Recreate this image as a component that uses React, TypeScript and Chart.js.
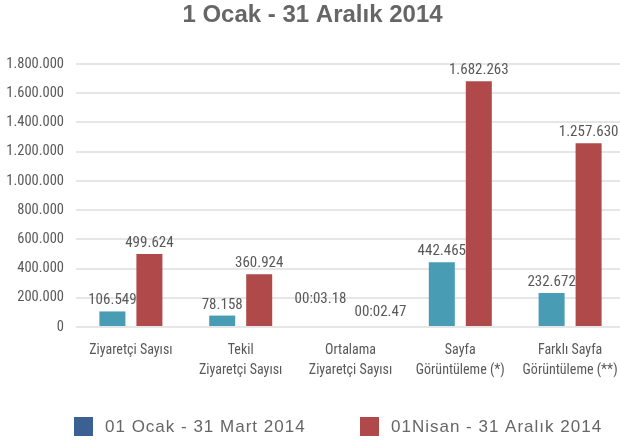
import React, { useEffect, useRef } from "react";
import { Chart, registerables } from "chart.js";

Chart.register(...registerables);

const categories: string[][] = [
  ["Ziyaretçi Sayısı"],
  ["Tekil", "Ziyaretçi Sayısı"],
  ["Ortalama", "Ziyaretçi Sayısı"],
  ["Sayfa", "Görüntüleme (*)"],
  ["Farklı Sayfa", "Görüntüleme (**)"],
];
const seriesNames = ["01 Ocak - 31 Mart 2014", "01Nisan - 31 Aralık 2014"];
const q1Values = [106549, 78158, 0, 442465, 232672];
const restValues = [499624, 360924, 0, 1682263, 1257630];
const q1Labels = ["106.549", "78.158", "00:03.18", "442.465", "232.672"];
const restLabels = ["499.624", "360.924", "00:02.47", "1.682.263", "1.257.630"];
const yTicks = [0, 200000, 400000, 600000, 800000, 1000000, 1200000, 1400000, 1600000, 1800000];

const barColors = ["#489cb4", "#b04a4a"];
const legendColors = ["#3a6191", "#b04a4a"];
const valueLabelSets = [q1Labels, restLabels];

const NARROW = "'Liberation Sans Narrow', 'Roboto Condensed', 'Liberation Sans', sans-serif";
const REGULAR = "'Liberation Sans', Arial, sans-serif";
const TEXT = "#595959";

const fmt = (v: number) => String(v).replace(/\B(?=(\d{3})+(?!\d))/g, ".");

const valueLabelPlugin = {
  id: "valueLabels",
  afterDatasetsDraw(chart: any) {
    const ctx = chart.ctx;
    ctx.save();
    ctx.font = `15px ${NARROW}`;
    ctx.fillStyle = TEXT;
    ctx.textAlign = "center";
    ctx.textBaseline = "alphabetic";
    const n = chart.data.labels.length;
    for (let i = 0; i < n; i++) {
      const items = chart.data.datasets.map((_ds: any, d: number) => {
        const el = chart.getDatasetMeta(d).data[i];
        const text = valueLabelSets[d][i];
        return { x: el.x, y: el.y - 7, text, w: ctx.measureText(text).width };
      });
      if (items.length === 2) {
        const [a, b] = items;
        const overlap = a.x + a.w / 2 + 8 - (b.x - b.w / 2);
        if (overlap > 0 && Math.abs(a.y - b.y) < 16) {
          a.x -= overlap / 2;
          b.x += overlap / 2;
          a.y -= 17;
          b.y -= 4;
        }
      }
      items.forEach((it: any) => ctx.fillText(it.text, it.x, it.y));
    }
    ctx.restore();
  },
};

const legendPlugin = {
  id: "customLegend",
  afterDraw(chart: any) {
    const ctx = chart.ctx;
    const xs = [74, 360];
    const top = chart.chartArea.bottom + 90;
    const size = 19;
    ctx.save();
    ctx.font = `17px ${REGULAR}`;
    (ctx as any).letterSpacing = "1px";
    ctx.textAlign = "left";
    ctx.textBaseline = "middle";
    chart.data.datasets.forEach((ds: any, d: number) => {
      ctx.fillStyle = legendColors[d];
      ctx.fillRect(xs[d], top, size, size);
      ctx.fillStyle = "#666666";
      ctx.fillText(ds.label, xs[d] + 31, top + size / 2 + 0.5);
    });
    ctx.restore();
  },
};

export default function App() {
  const ref = useRef<HTMLCanvasElement | null>(null);
  useEffect(() => {
    document.body.style.margin = "0";
    if (!ref.current) return;
    const chart = new Chart(ref.current, {
      type: "bar",
      data: {
        labels: categories,
        datasets: [
          { label: seriesNames[0], data: q1Values, backgroundColor: barColors[0] },
          { label: seriesNames[1], data: restValues, backgroundColor: barColors[1] },
        ],
      },
      options: {
        responsive: false,
        animation: false,
        events: [],
        layout: { padding: { left: 0, right: 5, top: 0, bottom: 0 } },
        datasets: { bar: { categoryPercentage: 0.674, barPercentage: 0.703 } },
        plugins: {
          legend: { display: false },
          tooltip: { enabled: false },
          title: {
            display: true,
            text: "1 Ocak - 31 Aralık 2014",
            color: "#666666",
            font: { family: REGULAR, size: 24, weight: "bold", lineHeight: 1.2 },
            padding: { top: 1, bottom: 34.2 },
          },
        },
        scales: {
          x: {
            grid: { display: false },
            border: { display: false },
            ticks: {
              color: TEXT,
              font: { family: NARROW, size: 14, lineHeight: 20 / 14 },
              padding: 5,
              maxRotation: 0,
              autoSkip: false,
            },
            afterFit: (s: any) => {
              s.height = 117;
            },
          },
          y: {
            min: 0,
            max: 1800000,
            afterBuildTicks: (s: any) => {
              s.ticks = yTicks.map((v) => ({ value: v }));
            },
            grid: { color: "#e6e6e6", lineWidth: 2, drawTicks: false },
            border: { display: false },
            ticks: {
              color: TEXT,
              font: { family: NARROW, size: 14.5 },
              padding: 12,
              callback: (v: any) => fmt(Number(v)),
            },
            afterFit: (s: any) => {
              s.width = 76;
            },
          },
        },
      },
      plugins: [valueLabelPlugin, legendPlugin],
    });
    return () => chart.destroy();
  }, []);
  return (
    <div style={{ width: 620, height: 444, overflow: "hidden", position: "relative", background: "#fff" }}>
      <canvas ref={ref} width={630} height={444} style={{ width: 630, height: 444, display: "block" }} />
    </div>
  );
}
